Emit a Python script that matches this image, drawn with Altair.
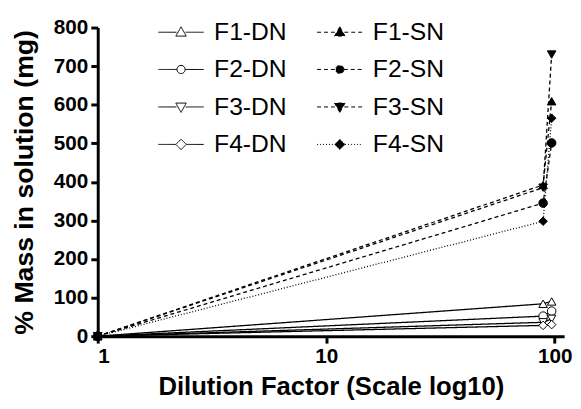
import altair as alt
import pandas as pd

# ---- data ----
dilution = [1, 89, 97]
series_names = ["F1-DN", "F2-DN", "F3-DN", "F4-DN", "F1-SN", "F2-SN", "F3-SN", "F4-SN"]
f1_dn = [0, 84, 90]
f2_dn = [0, 52, 65]
f3_dn = [0, 36, 45]
f4_dn = [0, 28, 30]
f1_sn = [0, 392, 609]
f2_sn = [0, 345, 501]
f3_sn = [0, 385, 730]
f4_sn = [0, 298, 565]
x_ticks = [1, 10, 100]
y_ticks = [0, 100, 200, 300, 400, 500, 600, 700, 800]

values = [f1_dn, f2_dn, f3_dn, f4_dn, f1_sn, f2_sn, f3_sn, f4_sn]
rows = []
for name, vals in zip(series_names, values):
    for x, y in zip(dilution, vals):
        rows.append({"dilution": x, "mass": y, "series": name, "name": name})
df = pd.DataFrame(rows)

plot_shapes = ["triangle-up", "circle", "triangle-down", "diamond"] * 2
plot_fills = ["white"] * 4 + ["black"] * 4
dashes = [[1, 0]] * 4 + [[4, 3]] * 3 + [[1, 2]]

# legend symbols: short line with marker in the middle
p_tri_up = "M-2,0L-0.4,0M0.4,0L2,0M0,-0.48L0.46,0.34L-0.46,0.34Z"
p_circle = "M-2,0L-0.36,0M0.36,0L2,0M0.36,0A0.36,0.36 0 1,1 -0.36,0A0.36,0.36 0 1,1 0.36,0Z"
p_tri_dn = "M-2,0L-0.4,0M0.4,0L2,0M0,0.48L0.46,-0.34L-0.46,-0.34Z"
p_diamond = "M-2,0L-0.46,0M0.46,0L2,0M0,-0.46L0.46,0L0,0.46L-0.46,0Z"
leg_shapes = [p_tri_up, p_circle, p_tri_dn, p_diamond] * 2

FONT = "Liberation Sans"

x_enc = alt.X("dilution:Q",
              scale=alt.Scale(type="log", domain=[1, 110], nice=False),
              axis=alt.Axis(values=x_ticks, format="d", title="Dilution Factor (Scale log10)"))
y_enc = alt.Y("mass:Q",
              scale=alt.Scale(domain=[0, 800], nice=False),
              axis=alt.Axis(values=y_ticks, title="% Mass in solution (mg)"))

base = alt.Chart(df)

lines = base.mark_line(color="black", strokeWidth=1.3).encode(
    x=x_enc, y=y_enc,
    detail="series:N",
    strokeDash=alt.StrokeDash("series:N", scale=alt.Scale(domain=series_names, range=dashes), legend=None),
)

points = base.mark_point(filled=True, stroke="black", strokeWidth=1, size=75, opacity=1).encode(
    x=x_enc, y=y_enc,
    shape=alt.Shape("name:N", scale=alt.Scale(domain=series_names, range=plot_shapes), legend=None),
    fill=alt.Fill("name:N", scale=alt.Scale(domain=series_names, range=plot_fills), legend=None),
)

legend_layer = base.transform_filter("datum.mass < -1").mark_point(
    filled=True, strokeWidth=1, size=529, opacity=1
).encode(
    x=x_enc, y=y_enc,
    shape=alt.Shape("series:N", scale=alt.Scale(domain=series_names, range=leg_shapes), title=None),
    fill=alt.Fill("series:N", scale=alt.Scale(domain=series_names, range=plot_fills), title=None),
    stroke=alt.Stroke("series:N", scale=alt.Scale(domain=series_names, range=["black"] * 8), title=None),
    strokeDash=alt.StrokeDash("series:N", scale=alt.Scale(domain=series_names, range=dashes), title=None),
)

chart = alt.layer(lines, points, legend_layer).resolve_scale(
    shape="independent", fill="independent", strokeDash="independent", stroke="independent"
).properties(
    width=473, height=313,
    autosize=alt.AutoSizeParams(type="none"),
    padding={"left": 91, "top": 17, "right": 9, "bottom": 71},
).configure_view(stroke=None).configure_axis(
    grid=False,
    domainColor="black", domainWidth=3,
    tickColor="black", tickWidth=3, tickSize=7,
    labelFont=FONT, labelFontSize=21, labelFontWeight="bold", labelColor="black",
    labelPadding=3,
    titleFont=FONT, titleFontSize=26, titleFontWeight="bold", titleColor="black",
).configure_axisY(titlePadding=15, titleFontSize=27).configure_axisX(titlePadding=7).configure_legend(
    orient="none", legendX=72, legendY=-8, columns=2,
    columnPadding=28, rowPadding=12, padding=0,
    labelFont=FONT, labelFontSize=25, labelColor="black", labelOffset=21, labelLimit=300,
    symbolStrokeColor="black", symbolStrokeWidth=1, symbolSize=529,
)

chart.save("out.html", embed_options={"renderer": "svg", "actions": False})
